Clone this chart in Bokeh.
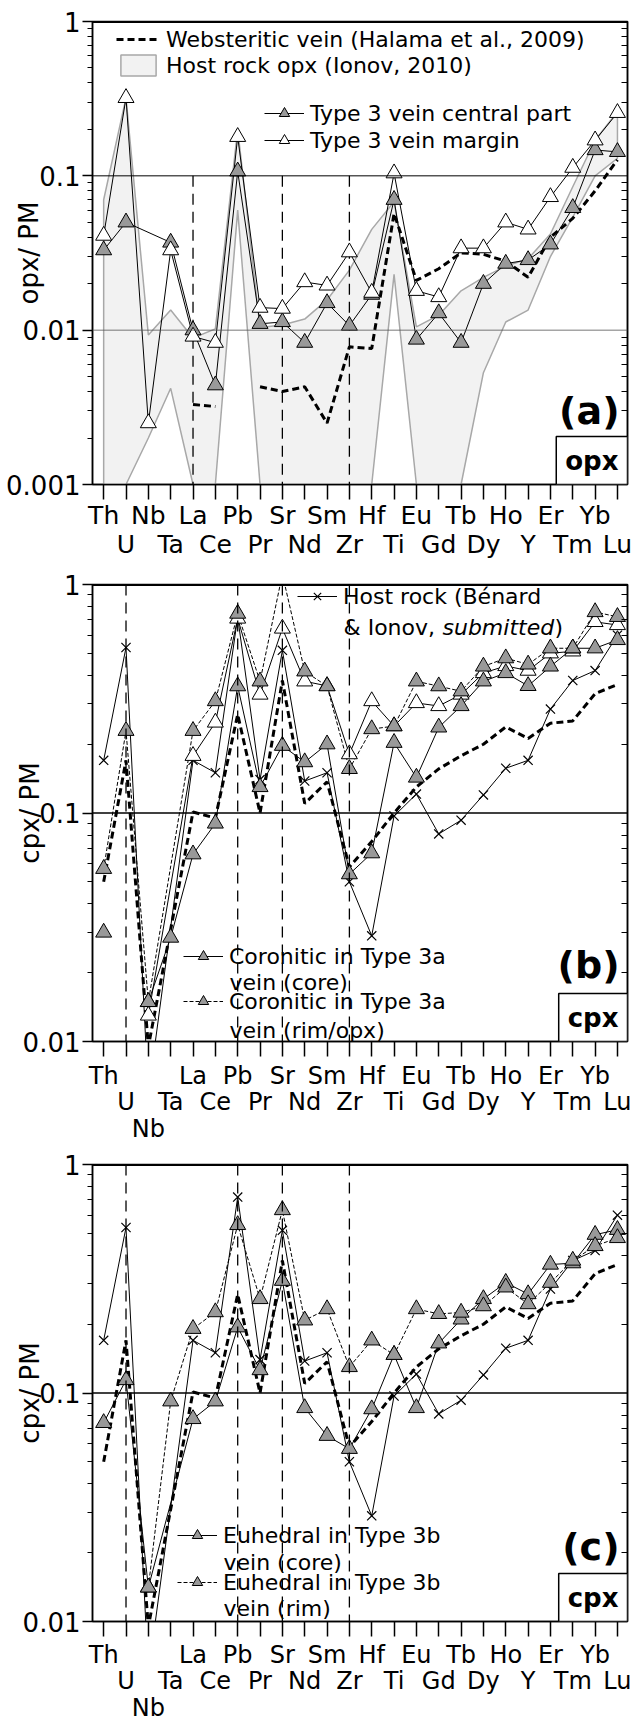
import math
from bokeh.plotting import figure
from bokeh.models import Range1d, FixedTicker, LogAxis, Span, Label, Legend, LegendItem
from bokeh.layouts import column
from bokeh.embed import file_html
from bokeh.resources import INLINE

NA = float("nan")

# ---------------- data ----------------
elements = ["Th", "U", "Nb", "Ta", "La", "Ce", "Pb", "Pr", "Sr", "Nd", "Sm", "Zr",
            "Hf", "Ti", "Eu", "Gd", "Tb", "Dy", "Ho", "Y", "Er", "Tm", "Yb", "Lu"]
label_rows_opx = [0, 1, 0, 1, 0, 1, 0, 1, 0, 1, 0, 1, 0, 1, 0, 1, 0, 1, 0, 1, 0, 1, 0, 1]
label_rows_cpx = [0, 1, 2, 1, 0, 1, 0, 1, 0, 1, 0, 1, 0, 1, 0, 1, 0, 1, 0, 1, 0, 1, 0, 1]
y_decades = [0.001, 0.01, 0.1, 1.0]

guides_opx = ["La", "Sr", "Zr"]
guide_top_opx = 0.1
guides_cpx = ["U", "Pb", "Sr", "Zr"]

# panel (a) opx
opx_central = [0.033, 0.050, NA, 0.037, 0.010, 0.0044, 0.107, 0.011, 0.0113, 0.0083, 0.015, 0.0107,
               0.017, 0.070, 0.0087, 0.0129, 0.0083, 0.020, 0.027, 0.0285, 0.036, 0.062, 0.147, 0.143]
opx_margin = [0.041, 0.32, 0.0025, 0.033, 0.0091, 0.0083, 0.179, 0.014, 0.0138, 0.0205, 0.0195, 0.032,
              0.0175, 0.104, 0.018, 0.0164, 0.034, 0.034, 0.050, 0.045, 0.073, 0.113, 0.17, 0.256]
opx_halama = [NA, NA, NA, NA, 0.0033, 0.0032, NA, 0.0043, 0.0040, 0.0043, 0.0025, 0.0078,
              0.0076, 0.057, 0.021, 0.025, 0.0317, 0.031, 0.028, 0.022, 0.040, 0.053, 0.080, 0.127]
host_opx_upper = [0.07, 0.32, 0.0093, 0.0135, 0.0089, 0.0102, 0.20, 0.0104, 0.0108, 0.0118, 0.0157, 0.0245,
                  0.045, 0.068, 0.0105, 0.0125, 0.018, 0.022, 0.026, 0.029, 0.042, 0.085, 0.17, 0.26]
host_opx_lower = [0.001, 0.001, 0.002, 0.0042, 0.001, 0.001, 0.06, 0.001, 0.001, 0.001, 0.001, 0.001,
                  0.001, 0.023, 0.001, 0.001, 0.001, 0.0053, 0.0113, 0.0135, 0.030, 0.054, 0.10, 0.13]

# panels (b) and (c) cpx
cpx_host = [0.17, 0.53, 0.0059, NA, 0.17, 0.15, 0.72, 0.14, 0.515, 0.138, 0.15, 0.050,
            0.029, 0.097, 0.121, 0.081, 0.093, 0.12, 0.157, 0.17, 0.285, 0.38, 0.42, 0.60]
cpx_halama = [0.05, 0.17, 0.0095, NA, 0.101, 0.095, 0.27, 0.10, 0.38, 0.11, 0.137, 0.058,
              0.075, 0.10, 0.13, 0.156, 0.178, 0.20, 0.238, 0.212, 0.247, 0.253, 0.333, 0.365]
coronitic_core = [0.030, NA, 0.0149, 0.0285, 0.066, 0.090, 0.359, 0.13, 0.197, 0.167, 0.20, 0.054,
                  0.0667, 0.203, 0.143, 0.237, 0.294, 0.377, 0.41, 0.36, 0.438, 0.526, 0.526, 0.572]
coronitic_rim = [0.057, 0.229, 0.0149, NA, 0.229, 0.309, 0.746, 0.377, 1.11, 0.417, 0.359, 0.156,
                 0.233, 0.24, 0.377, 0.359, 0.341, 0.438, 0.476, 0.447, 0.526, 0.526, 0.758, 0.722]
coronitic_other = [NA, NA, 0.013, NA, 0.178, 0.249, 0.71, 0.33, 0.642, 0.377, 0.36, 0.181,
                   0.309, 0.24, 0.303, 0.294, 0.33, 0.41, 0.44, 0.42, 0.50, 0.51, 0.686, 0.665]
euhedral_core = [0.074, 0.114, 0.0141, NA, 0.077, 0.092, 0.194, 0.126, 0.31, 0.086, 0.065, 0.057,
                 0.085, 0.147, 0.086, 0.165, 0.21, 0.258, 0.304, 0.271, 0.365, 0.37, 0.493, 0.518]
euhedral_rim = [NA, NA, 0.0141, 0.092, 0.191, 0.226, 0.544, 0.258, 0.632, 0.208, 0.233, 0.130,
                0.17, 0.147, 0.233, 0.222, 0.225, 0.24, 0.29, 0.245, 0.304, 0.38, 0.44, 0.477]

# ---------------- style ----------------
FONT = "DejaVu Sans"
X_START, X_END = -0.5, 23.45
FIG_W = 632
GRAY = "#999999"


def pts(vals, connect=True):
    xs, ys = [], []
    for i, v in enumerate(vals):
        if math.isnan(v) and connect:
            continue
        xs.append(i)
        ys.append(v)
    return xs, ys


def marks(vals):
    return pts(vals, connect=True)


def make_fig(height, y_start, b_top, b_bot, rows, ylabel, ylab_standoff, tag, tag_dy, mineral,
             xfont, xline, xstand):
    p = figure(width=FIG_W, height=height, y_axis_type="log",
               x_range=Range1d(X_START, X_END), y_range=Range1d(y_start, 1.0),
               output_backend="svg", toolbar_location=None,
               min_border_left=92, min_border_right=5,
               min_border_top=b_top, min_border_bottom=b_bot)
    p.xgrid.visible = False
    p.ygrid.visible = False
    p.outline_line_color = "black"
    p.outline_line_width = 1.5

    xa = p.xaxis[0]
    xa.ticker = FixedTicker(ticks=list(range(len(elements))))
    xa.major_label_overrides = {i: "\n" * r + el for i, (el, r) in enumerate(zip(elements, rows))}
    xa.major_tick_out = 15
    xa.major_tick_in = 0
    xa.minor_tick_out = 0
    xa.minor_tick_in = 0
    xa.major_tick_line_width = 1.5
    xa.axis_line_width = 1.5
    xa.major_label_text_font = FONT
    xa.major_label_text_font_size = xfont
    xa.major_label_text_line_height = xline
    xa.major_label_standoff = xstand
    xa.major_label_text_color = "black"

    decades = [d for d in y_decades if d >= y_start]
    minors = [round(m * d, 6) for d in decades[:-1] for m in range(2, 10)]
    ya = p.yaxis[0]
    ya.ticker = FixedTicker(ticks=decades, minor_ticks=minors)
    ya.major_label_overrides = {d: f"{d:g}" for d in decades}
    ya.major_tick_out = 10
    ya.major_tick_in = 0
    ya.minor_tick_out = 5
    ya.minor_tick_in = 0
    ya.major_tick_line_width = 1.5
    ya.axis_line_width = 1.5
    ya.major_label_text_font = FONT
    ya.major_label_text_font_size = "26px"
    ya.major_label_standoff = 2
    ya.major_label_text_color = "black"
    ya.axis_label = ylabel
    ya.axis_label_text_font = FONT
    ya.axis_label_text_font_size = "26px"
    ya.axis_label_text_font_style = "normal"
    ya.axis_label_text_color = "black"
    ya.axis_label_standoff = ylab_standoff

    ra = LogAxis(ticker=FixedTicker(ticks=decades, minor_ticks=minors),
                 major_label_overrides={d: "" for d in decades},
                 major_label_text_font_size="0px",
                 major_tick_out=0, major_tick_in=0, minor_tick_out=0, minor_tick_in=6,
                 axis_line_width=1.5)
    p.add_layout(ra, "right")

    p.add_layout(Span(location=1.0, dimension="width", line_color="black", line_width=3))

    p.add_layout(Label(x=X_END, y=y_start, x_offset=-8, y_offset=tag_dy, text=tag,
                       text_align="right", text_baseline="bottom", text_font=FONT,
                       text_font_style="bold", text_font_size="38px", text_color="black"))
    p.add_layout(Label(x=X_END, y=y_start, text=mineral, text_align="right",
                       text_baseline="bottom", text_font=FONT, text_font_style="bold",
                       text_font_size="26px", text_color="black",
                       border_line_color="black", border_line_width=1.5,
                       background_fill_color="white", padding=9))
    return p


def legend(items, loc, spacing, glyph_w=40):
    lg = Legend(items=items, location=loc, orientation="vertical",
                background_fill_alpha=0, border_line_alpha=0,
                label_text_font=FONT, label_text_font_size="22px", label_text_color="black",
                glyph_width=glyph_w, glyph_height=26, label_height=26,
                spacing=spacing, padding=0, margin=0, label_standoff=6)
    return lg


def text(p, s, dx, dy, style="normal"):
    p.add_layout(Label(x=X_START, y=1.0, x_offset=dx, y_offset=-dy, text=s,
                       text_align="left", text_baseline="middle", text_font=FONT,
                       text_font_size="22px", text_font_style=style, text_color="black"))


def tri(p, vals, fill):
    return p.scatter(*marks(vals), marker="triangle", size=16, fill_color=fill,
                     line_color="black", line_width=1)


# ---------------- panel (a) ----------------
pa = make_fig(561, 0.001, 21, 77, label_rows_opx, "opx/ PM", -41, "(a)", 52, "opx", "25px", 1.0, 1)
xi = list(range(len(elements)))
band = pa.patch(xi + xi[::-1], host_opx_upper + host_opx_lower[::-1],
                fill_color="#f2f2f2", line_color="#a8a8a8", line_width=1.5)
pa.segment(x0=[elements.index(g) for g in guides_opx], y0=[guide_top_opx] * len(guides_opx),
           x1=[elements.index(g) for g in guides_opx], y1=[0.001] * len(guides_opx),
           line_color="black", line_width=1.3, line_dash="11 7")
pa.add_layout(Span(location=0.1, dimension="width", line_color="black", line_width=1))
pa.add_layout(Span(location=0.01, dimension="width", line_color="#555555", line_width=0.8))
hal_a = pa.line(*pts(opx_halama, connect=False), line_color="black", line_width=3, line_dash="7 4")
cen_l = pa.line(*pts(opx_central), line_color="black", line_width=1)
mar_l = pa.line(*pts(opx_margin), line_color="black", line_width=1)
cen_p = tri(pa, opx_central, GRAY)
mar_p = tri(pa, opx_margin, "white")

pa.add_layout(legend([LegendItem(label="Websteritic vein (Halama et al., 2009)", renderers=[hal_a]),
                      LegendItem(label="Host rock opx (Ionov, 2010)", renderers=[band])],
                     (24, 406), 0, glyph_w=44))
pa.add_layout(legend([LegendItem(label="Type 3 vein central part", renderers=[cen_l, cen_p]),
                      LegendItem(label="Type 3 vein margin", renderers=[mar_l, mar_p])],
                     (172, 331), 1))


# ---------------- panel (b) ----------------
def cpx_common(p):
    for g in guides_cpx:
        p.add_layout(Span(location=elements.index(g), dimension="height", line_color="black",
                          line_width=1.3, line_dash="11 7"))
    p.add_layout(Span(location=0.1, dimension="width", line_color="black", line_width=1.5))
    p.line(*pts(cpx_halama), line_color="black", line_width=3, line_dash="7 4")
    hl = p.line(*pts(cpx_host), line_color="black", line_width=1)
    return hl


pb = make_fig(584, 0.01, 23, 100, label_rows_cpx, "cpx/ PM", -25, "(b)", 55, "cpx", "24px", 0.95, 5)
host_l = cpx_common(pb)
core_l = pb.line(*pts(coronitic_core, connect=False), line_color="black", line_width=1)
rim_l = pb.line(*pts(coronitic_rim), line_color="black", line_width=1, line_dash="4 2")
oth_l = pb.line(*pts(coronitic_other), line_color="black", line_width=1)
host_p = pb.scatter(*marks(cpx_host), marker="x", size=13, line_color="black", line_width=1.2)
tri(pb, coronitic_other, "white")
core_p = tri(pb, coronitic_core, GRAY)
rim_p = tri(pb, coronitic_rim, GRAY)

pb.add_layout(legend([LegendItem(label="Host rock (Bénard", renderers=[host_l, host_p])],
                     (205, 432), 0))
text(pb, "& Ionov, ", 251, 43)
text(pb, "submitted", 350, 43, "italic")
text(pb, ")", 462, 43)
pb.add_layout(legend([LegendItem(label="Coronitic in Type 3a", renderers=[core_l, core_p]),
                      LegendItem(label="Coronitic in Type 3a", renderers=[rim_l, rim_p])],
                     (91, 27), 19))
text(pb, "vein (core)", 137, 398)
text(pb, "vein (rim/opx)", 137, 446)

# ---------------- panel (c) ----------------
pc = make_fig(579, 0.01, 19, 98, label_rows_cpx, "cpx/ PM", -25, "(c)", 53, "cpx", "24px", 0.95, 4)
cpx_common(pc)
ecore_l = pc.line(*pts(euhedral_core), line_color="black", line_width=1)
erim_l = pc.line(*pts(euhedral_rim), line_color="black", line_width=1, line_dash="4 2")
pc.scatter(*marks(cpx_host), marker="x", size=13, line_color="black", line_width=1.2)
ecore_p = tri(pc, euhedral_core, GRAY)
erim_p = tri(pc, euhedral_rim, GRAY)
pc.add_layout(legend([LegendItem(label="Euhedral in Type 3b", renderers=[ecore_l, ecore_p]),
                      LegendItem(label="Euhedral in Type 3b", renderers=[erim_l, erim_p])],
                     (85, 26), 21))
text(pc, "vein (core)", 131, 398)
text(pc, "vein (rim)", 131, 444)

layout = column(pa, pb, pc, spacing=0)
open("out.html", "w").write(file_html(layout, INLINE))
